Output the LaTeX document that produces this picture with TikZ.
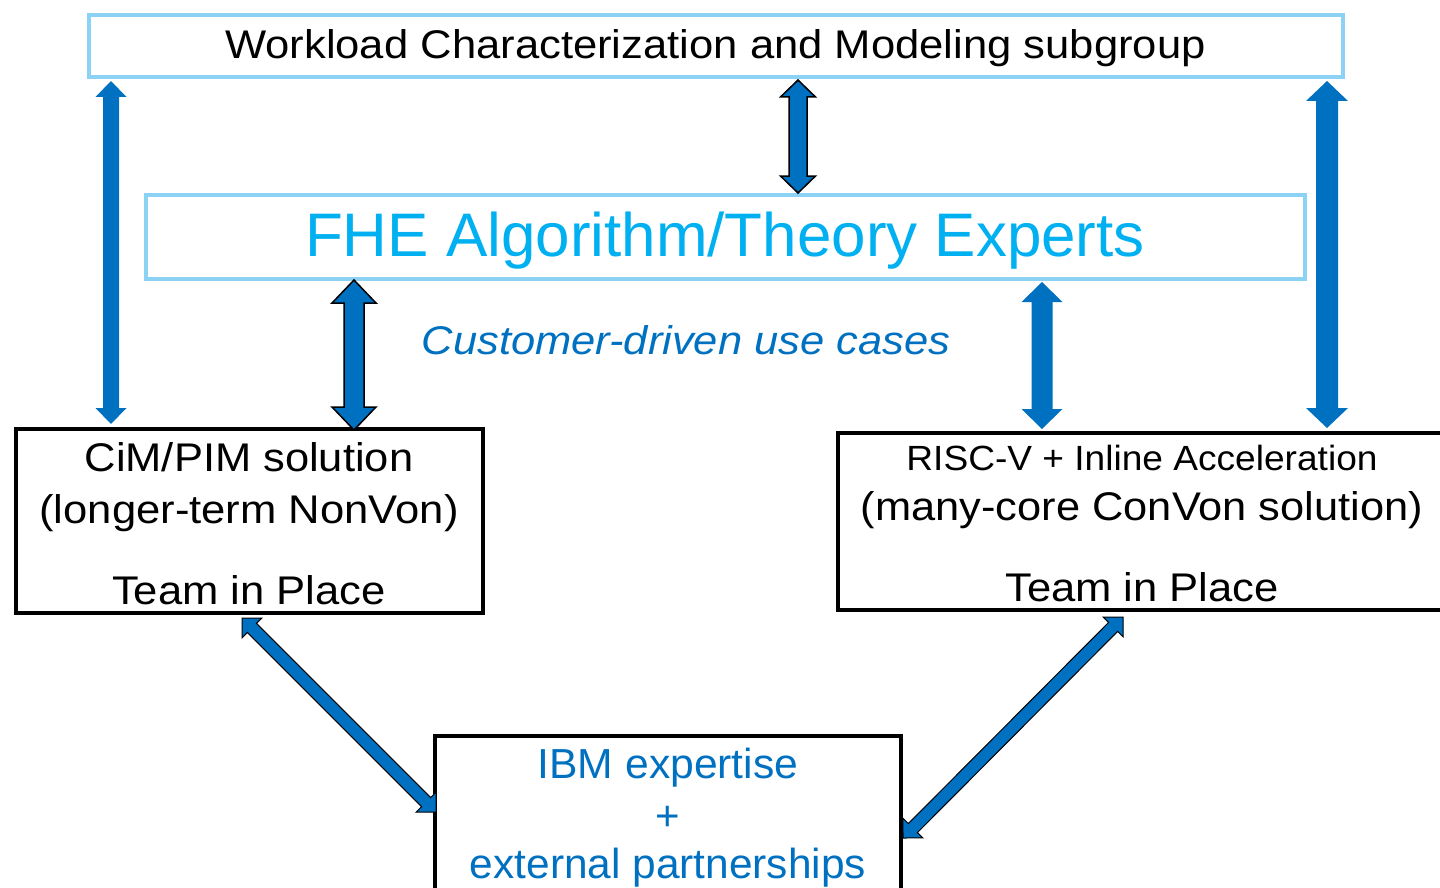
\documentclass[tikz,border=0pt]{standalone}
\usepackage{fontspec}
\usepackage{graphicx}
\setmainfont{Liberation Sans}
\usetikzlibrary{calc}
\definecolor{lblue}{RGB}{140,210,245}
\definecolor{fheblue}{RGB}{0,176,240}
\definecolor{ibmblue}{RGB}{0,112,192}
\newcommand{\hstretch}[2]{\scalebox{#1}[1]{#2}}
\newcommand{\blockarrow}[6]{%
  \path[#1] (#2)
   -- ($(#2)!#4!(#3)!#5!90:(#3)$)
   -- ($(#2)!#4!(#3)!#6!90:(#3)$)
   -- ($(#3)!#4!(#2)!#6!-90:(#2)$)
   -- ($(#3)!#4!(#2)!#5!-90:(#2)$)
   -- (#3)
   -- ($(#3)!#4!(#2)!#5!90:(#2)$)
   -- ($(#3)!#4!(#2)!#6!90:(#2)$)
   -- ($(#2)!#4!(#3)!#6!-90:(#3)$)
   -- ($(#2)!#4!(#3)!#5!-90:(#3)$)
   -- cycle;}
\tikzset{
  lbox/.style={draw=lblue, line width=2pt, inner sep=0pt, rectangle},
  kbox/.style={draw=black, line width=2pt, inner sep=0pt, rectangle},
  txt/.style={anchor=base, inner sep=0pt},
  plainarrow/.style={fill=ibmblue},
  edgearrow/.style={fill=ibmblue, draw=black, line width=0.75pt, line join=miter},
  thinarrow/.style={fill=ibmblue, draw=black, line width=0.5pt, line join=miter},
}
\begin{document}
\begin{tikzpicture}[x=0.5pt, y=-0.5pt]
\path[use as bounding box] (0,0) rectangle (1440,888);
\clip (0,0) rectangle (1440,888);
% boxes
\node[lbox, minimum width=627pt, minimum height=31pt] (wcm) at (716,46) {};
\node[lbox, minimum width=579.5pt, minimum height=42pt] (fhe) at (725.5,237) {};
\node[kbox, minimum width=233.5pt, minimum height=92pt] (cim) at (249.5,521) {};
\node[kbox, minimum width=303pt, minimum height=88.5pt] (risc) at (1141,521.5) {};
\node[kbox, minimum width=233pt, minimum height=107pt] (ibm) at (668,843) {};
% texts
\node[txt, font=\fontsize{20pt}{24pt}\selectfont] (twcm) at (715.5,59) {\hstretch{1.09}{Workload Characterization and Modeling subgroup}};
\node[txt, text=fheblue, font=\fontsize{30.75pt}{36pt}\selectfont] (tfhe) at (725,256) {\hstretch{1.007}{FHE Algorithm/Theory Experts}};
\node[txt, text=ibmblue, font=\fontsize{20pt}{24pt}\selectfont\itshape] (tcust) at (686,354) {\hstretch{1.087}{Customer-driven use cases}};
\node[txt, font=\fontsize{20pt}{24pt}\selectfont] (tcim1) at (249,471) {\hstretch{1.087}{CiM/PIM solution}};
\node[txt, font=\fontsize{20pt}{24pt}\selectfont] (tcim2) at (249,523) {\hstretch{1.09}{(longer-term NonVon)}};
\node[txt, font=\fontsize{20pt}{24pt}\selectfont] (tcim3) at (249,604) {\hstretch{1.09}{Team in Place}};
\node[txt, font=\fontsize{17.5pt}{21pt}\selectfont] (trisc1) at (1142,470) {\hstretch{1.06}{RISC-V + Inline Acceleration}};
\node[txt, font=\fontsize{20pt}{24pt}\selectfont] (trisc2) at (1142,520) {\hstretch{1.085}{(many-core ConVon solution)}};
\node[txt, font=\fontsize{20pt}{24pt}\selectfont] (trisc3) at (1142,601) {\hstretch{1.089}{Team in Place}};
\node[txt, text=ibmblue, font=\fontsize{21pt}{24pt}\selectfont] (tibm1) at (668,778) {\hstretch{1.015}{IBM expertise}};
\node[txt, text=ibmblue, font=\fontsize{21pt}{24pt}\selectfont] (tibm2) at (668,830) {+};
\node[txt, text=ibmblue, font=\fontsize{21pt}{24pt}\selectfont] (tibm3) at (668,878) {\hstretch{1.01}{external partnerships}};
% arrow end coordinates
\coordinate (a1t) at ($(wcm.south west)+(24,2)$);
\coordinate (a1b) at ($(cim.north west)+(97,-3)$);
\coordinate (a2t) at ($(wcm.south)+(82,1)$);
\coordinate (a2b) at ($(fhe.north)+(72.5,0)$);
\coordinate (a3t) at ($(fhe.south west)+(210,-1)$);
\coordinate (a3b) at ($(cim.north)+(104.5,3)$);
\coordinate (a4t) at ($(fhe.south west)+(898,1)$);
\coordinate (a4b) at ($(risc.north west)+(206,-2)$);
\coordinate (a5t) at ($(wcm.south east)+(-18,2)$);
\coordinate (a5b) at ($(risc.north west)+(491,-3)$);
\coordinate (a6t) at ($(cim.south west)+(228,3)$);
\coordinate (a6b) at ($(ibm.north west)+(3,78)$);
\coordinate (a7t) at ($(risc.south west)+(287,5)$);
\coordinate (a7b) at ($(ibm.north east)+(0,104)$);
% arrows
\blockarrow{plainarrow}{a1t}{a1b}{8pt}{7.75pt}{4pt}
\blockarrow{edgearrow}{a2t}{a2b}{8.5pt}{8.75pt}{4.5pt}
\blockarrow{edgearrow}{a3t}{a3b}{11.5pt}{11pt}{5pt}
\blockarrow{plainarrow}{a4t}{a4b}{10pt}{10.25pt}{5.25pt}
\blockarrow{plainarrow}{a5t}{a5b}{10pt}{10.5pt}{5.5pt}
\blockarrow{thinarrow}{a6t}{a6b}{7pt}{7pt}{3.2pt}
\blockarrow{thinarrow}{a7t}{a7b}{7pt}{7pt}{3.2pt}
\end{tikzpicture}
\end{document}
